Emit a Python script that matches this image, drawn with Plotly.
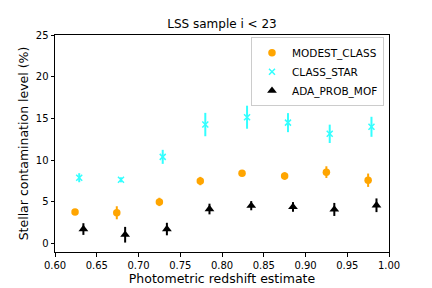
import plotly.graph_objects as go

z_modest = [0.624, 0.674, 0.725, 0.774, 0.824, 0.875, 0.925, 0.975]
modest = [3.8, 3.7, 5.0, 7.5, 8.45, 8.1, 8.57, 7.6]
modest_err = [0.35, 0.78, 0.5, 0.5, 0.3, 0.45, 0.7, 0.8]

z_star = [0.629, 0.679, 0.729, 0.780, 0.830, 0.879, 0.929, 0.979]
star = [7.9, 7.65, 10.4, 14.27, 15.15, 14.5, 13.16, 14.0]
star_err = [0.54, 0.3, 0.84, 1.4, 1.38, 1.14, 1.1, 1.2]

z_ada = [0.634, 0.684, 0.734, 0.785, 0.835, 0.885, 0.9345, 0.985]
ada = [1.75, 1.07, 1.75, 4.15, 4.55, 4.4, 4.1, 4.6]
ada_err = [0.7, 0.94, 0.75, 0.64, 0.55, 0.58, 0.78, 0.82]

xticks = [0.60, 0.65, 0.70, 0.75, 0.80, 0.85, 0.90, 0.95, 1.00]
yticks = [0, 5, 10, 15, 20, 25]

font = "DejaVu Sans"
fig = go.Figure()

def add(x, y, e, name, color, symbol, size, line=None):
    fig.add_trace(go.Scatter(
        x=x, y=y, mode="markers", name=name,
        marker=dict(color=color, symbol=symbol, size=size,
                    line=line if line else dict(width=0)),
        error_y=dict(type="data", array=e, visible=True, color=color, thickness=2, width=0),
    ))

add(z_modest, modest, modest_err, "MODEST_CLASS", "#FFA500", "circle", 7.5)
add(z_star, star, star_err, "CLASS_STAR", "#33FFFF", "x-thin-open", 6,
    line=dict(color="#33FFFF", width=1.5))
add(z_ada, ada, ada_err, "ADA_PROB_MOF", "black", "triangle-up", 8.5)

axis_common = dict(showgrid=False, zeroline=False, showline=True, linecolor="black",
                   linewidth=1, ticks="outside", ticklen=3.5, tickcolor="black",
                   mirror=True, automargin=False,
                   tickfont=dict(family=font, size=10, color="black"))

# page body has an 8px margin, so the figure is sized to fit the remaining window
W, H = 424, 280
fig.update_layout(
    width=W, height=H,
    margin=dict(l=47, r=43, t=27, b=36),
    paper_bgcolor="white", plot_bgcolor="white",
    title=dict(text="LSS sample i < 23", x=0.5, xanchor="center", xref="paper",
               y=1 - 16/H, yanchor="middle",
               font=dict(family=font, size=12, color="black")),
    xaxis=dict(range=[0.6, 1.0], tickvals=xticks, ticktext=[f"{v:.2f}" for v in xticks],
               title=dict(text="Photometric redshift estimate", standoff=3,
                          font=dict(family=font, size=12.5, color="black")),
               **axis_common),
    yaxis=dict(range=[-1, 25], tickvals=yticks,
               title=dict(text="Stellar contamination level (%)", standoff=4,
                          font=dict(family=font, size=12.5, color="black")),
               **axis_common),
    legend=dict(x=0.985, y=0.99, xanchor="right", yanchor="top",
                bgcolor="rgba(255,255,255,0.8)", bordercolor="#CCCCCC", borderwidth=1,
                font=dict(family=font, size=10.5, color="black"),
                tracegroupgap=0),
    showlegend=True,
)

fig.write_html("out.html")
